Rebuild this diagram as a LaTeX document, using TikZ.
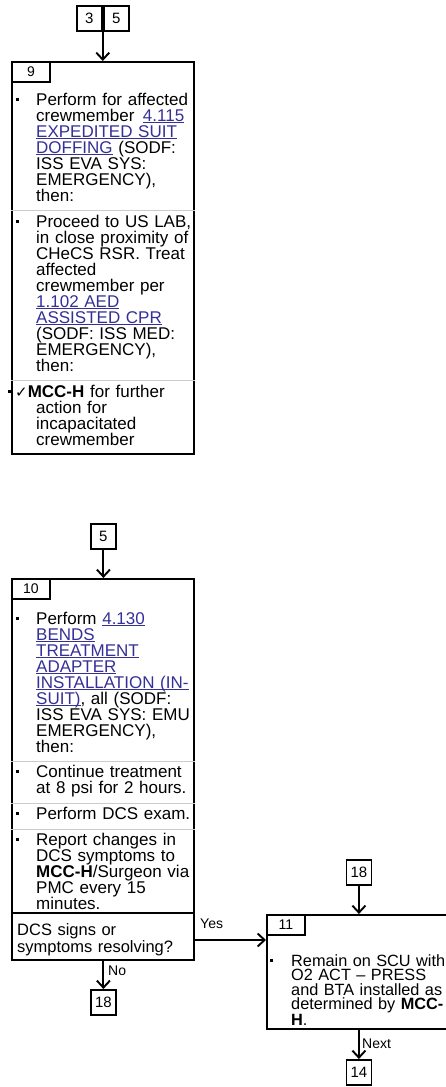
\documentclass[tikz,border=0pt]{standalone}
\usepackage{fontspec}
\setmainfont{Liberation Sans}
\newfontfamily\symfont{DejaVu Sans}
\usetikzlibrary{arrows.meta}
\definecolor{linkblue}{RGB}{52,48,150}
\newcommand\lnk[1]{\textcolor{linkblue}{\setbox0\hbox{#1}\rlap{\rule[-2.2pt]{\wd0}{0.9pt}}\box0}}
\newcommand\bul[2]{\fill (#1-1.5,#2-6.7) rectangle (#1+1.5,#2-3.7);}
\begin{document}
\begin{tikzpicture}[x=1pt,y=-1pt,
  box/.style={draw,line width=2.4pt,inner sep=0,anchor=north west},
  tab/.style={draw,line width=1.8pt,minimum width=38pt,minimum height=20pt,inner sep=0,anchor=north west,font=\fontsize{14}{14}\selectfont},
  conn/.style={draw,line width=1.8pt,minimum width=25pt,minimum height=25pt,inner sep=0,anchor=north west,font=\fontsize{15}{15}\selectfont},
  txt/.style={anchor=base west,inner sep=0,text width=175pt,align=left,font=\fontsize{17}{16}\selectfont},
  arr/.style={line width=1.9pt,-{Straight Barb[length=7pt,width=13pt,line width=1.9pt]}},
  lbl/.style={anchor=base west,inner sep=0,font=\fontsize{14}{14}\selectfont},
  sep/.style={draw=gray!40,line width=0.6pt},
  div/.style={line width=1.8pt}]
\useasboundingbox (0,0) rectangle (445,1087);
% ---------- box 9 ----------
\node[box,minimum width=182pt,minimum height=392pt] (b9) at (11,61) {};
\node[tab] (t9) at (b9.north west) {9};
\node[conn] (c3) at (76,5) {3};
\node[conn] (c5) at (c3.north east) {5};
\draw[arr] (c3.south east) -- (c3.south east |- b9.north);
\bul{17}{105}
\node[txt] (p91) at (36,105) {Perform for affected\\crewmember \,\lnk{4.115}\\\lnk{EXPEDITED SUIT}\\\lnk{DOFFING} (SODF:\\ISS EVA SYS:\\EMERGENCY),\\then:};
\draw[sep] (b9.west |- 0,210) -- (b9.east |- 0,210);
\bul{17}{227}
\node[txt] (p92) at (36,227) {Proceed to US LAB,\\in close proximity of\\CHeCS RSR. Treat\\affected\\crewmember per\\\lnk{1.102 AED}\\\lnk{ASSISTED CPR}\\(SODF: ISS MED:\\EMERGENCY),\\then:};
\draw[sep] (b9.west |- 0,380) -- (b9.east |- 0,380);
\bul{9}{397}
\node[txt] (p93a) at (15,397) {{\symfont\fontsize{15}{12}\selectfont ✓}\textbf{MCC-H} for further};
\node[txt] (p93b) at (36,413) {action for\\incapacitated\\crewmember};
% ---------- box 10 ----------
\node[conn] (c5b) at (90,523) {5};
\node[box,minimum width=182pt,minimum height=381pt] (b10) at (11,578) {};
\node[tab] (t10) at (b10.north west) {10};
\draw[arr] (c5b.south) -- (c5b.south |- b10.north);
\bul{17}{624}
\node[txt] (p101) at (36,624) {Perform \lnk{4.130}\\\lnk{BENDS}\\\lnk{TREATMENT}\\\lnk{ADAPTER}\\\lnk{INSTALLATION (IN-}\\\lnk{SUIT)}, all (SODF:\\ISS EVA SYS: EMU\\EMERGENCY),\\then:};
\draw[sep] (b10.west |- 0,761) -- (b10.east |- 0,761);
\bul{17}{777}
\node[txt] (p102) at (36,777) {Continue treatment\\at 8 psi for 2 hours.};
\draw[sep] (b10.west |- 0,803) -- (b10.east |- 0,803);
\bul{17}{819}
\node[txt] (p103) at (36,819) {Perform DCS exam.};
\draw[sep] (b10.west |- 0,829) -- (b10.east |- 0,829);
\bul{17}{845}
\node[txt] (p104) at (36,845) {Report changes in\\DCS symptoms to\\\textbf{MCC-H}/Surgeon via\\PMC every 15\\minutes.};
\draw[div] (b10.west |- 0,913) -- (b10.east |- 0,913);
\node[txt,font=\fontsize{16.5}{17}\selectfont] (q10) at (17,935) {DCS signs or\\symptoms resolving?};
\node[conn] (c18a) at (90,989) {18};
\draw[arr] (c18a.north |- b10.south) -- (c18a.north);
\node[lbl] (no) at (108,975) {No};
% ---------- box 11 ----------
\node[box,minimum width=182pt,minimum height=114pt] (b11) at (266,914) {};
\node[tab] (t11) at (b11.north west) {11};
\draw[arr] (b10.east |- 0,940) -- (b11.west |- 0,940);
\node[lbl] (yes) at (200,928) {Yes};
\node[conn] (c18b) at (345.5,859) {18};
\draw[arr] (c18b.south) -- (c18b.south |- b11.north);
\bul{271}{966}
\node[txt,font=\fontsize{16.3}{14.5}\selectfont] (p111) at (291,966) {Remain on SCU with\\O2 ACT – PRESS\\and BTA installed as\\determined by \textbf{MCC-}\\\textbf{H}.};
\node[conn] (c14) at (345.5,1059) {14};
\draw[arr] (c14.north |- b11.south) -- (c14.north);
\node[lbl] (next) at (362,1048) {Next};
\end{tikzpicture}
\end{document}
